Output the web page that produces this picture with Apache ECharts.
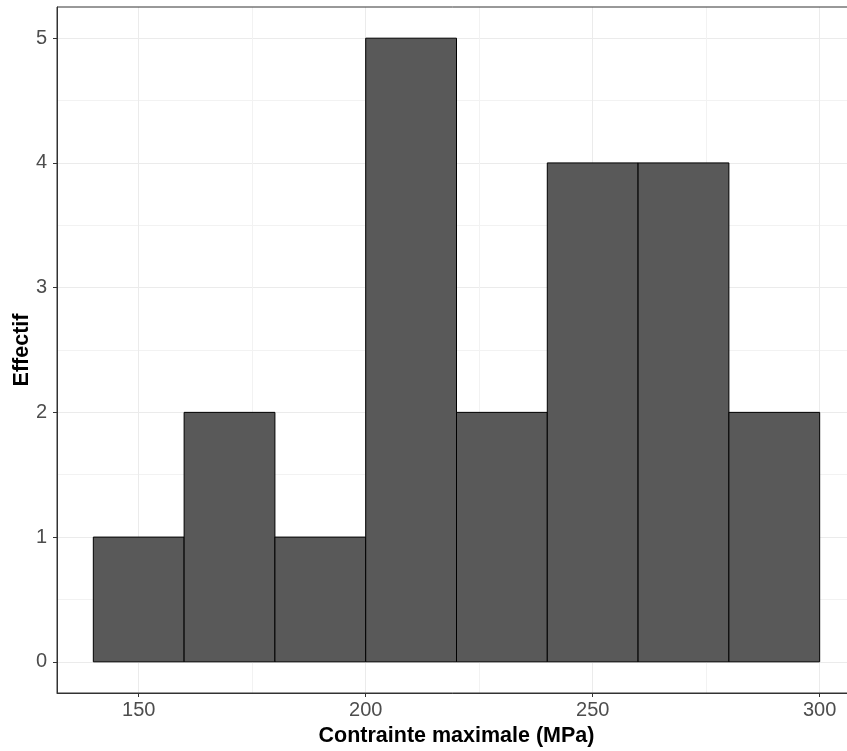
<!DOCTYPE html>
<html>
<head>
<meta charset="utf-8">
<script src="https://cdn.jsdelivr.net/npm/echarts@6/dist/echarts.min.js"></script>
<style>html,body{margin:0;padding:0;background:#fff;}#chart{width:847px;height:751px;}</style>
</head>
<body>
<div id="chart"></div>
<script>
// Histogram bins (MPa) and counts
const binStarts = [140, 160, 180, 200, 220, 240, 260, 280];
const binEnds   = [160, 180, 200, 220, 240, 260, 280, 300];
const counts    = [1, 2, 1, 5, 2, 4, 4, 2];
const xTicks = [150, 200, 250, 300];
const xMinor = [175, 225, 275];
const yTicks = [0, 1, 2, 3, 4, 5];
const yMinor = [0.5, 1.5, 2.5, 3.5, 4.5];
const xTitle = 'Contrainte maximale (MPa)';
const yTitle = 'Effectif';

const FONT = '"Liberation Sans", Arial, sans-serif';
const chart = echarts.init(document.getElementById('chart'), null, {renderer: 'canvas'});

const data = binStarts.map((s, i) => [s, binEnds[i], counts[i]]);

const gridCol = '#EBEBEB';
const minorCol = '#F2F2F2';

chart.setOption({
  backgroundColor: '#ffffff',
  animation: false,
  grid: {left: 57, top: 7, width: 799, height: 686, containLabel: false, outerBoundsMode: 'none',
         show: true, borderColor: '#333333', borderWidth: 1, backgroundColor: 'transparent', z: 3},
  xAxis: [{
    type: 'value', min: 132, max: 308,
    axisLine: {show: true, onZero: false, lineStyle: {color: '#333333', width: 1}},
    axisTick: {show: true, length: 4, customValues: xTicks, lineStyle: {color: '#333333'}},
    axisLabel: {customValues: xTicks, color: '#4D4D4D', fontSize: 20, fontFamily: FONT, margin: 7},
    splitLine: {show: true, lineStyle: {color: gridCol, width: 1}},
    name: xTitle, nameLocation: 'middle', nameGap: 32, nameMoveOverlap: false,
    nameTextStyle: {fontSize: 21.5, fontWeight: 'bold', color: '#000', fontFamily: FONT}
  }, {
    type: 'value', min: 132, max: 308, position: 'bottom',
    axisLine: {show: false}, axisLabel: {show: false},
    axisTick: {show: false, customValues: xMinor},
    splitLine: {show: true, lineStyle: {color: minorCol, width: 1}}
  }],
  yAxis: [{
    type: 'value', min: -0.25, max: 5.25,
    axisLine: {show: true, onZero: false, lineStyle: {color: '#333333', width: 1}},
    axisTick: {show: true, length: 4, customValues: yTicks, lineStyle: {color: '#333333'}},
    axisLabel: {customValues: yTicks, color: '#4D4D4D', fontSize: 20, fontFamily: FONT, margin: 10},
    splitLine: {show: true, lineStyle: {color: gridCol, width: 1}},
    name: yTitle, nameLocation: 'middle', nameGap: 24, nameRotate: 90, nameMoveOverlap: false,
    nameTextStyle: {fontSize: 21.5, fontWeight: 'bold', color: '#000', fontFamily: FONT}
  }, {
    type: 'value', min: -0.25, max: 5.25, position: 'left',
    axisLine: {show: false}, axisLabel: {show: false},
    axisTick: {show: false, customValues: yMinor},
    splitLine: {show: true, lineStyle: {color: minorCol, width: 1}}
  }],
  series: [{
    type: 'custom',
    xAxisIndex: 0, yAxisIndex: 0,
    z: 2,
    data: data,
    encode: {x: [0, 1], y: 2},
    renderItem: function (params, api) {
      const p0 = api.coord([api.value(0), api.value(2)]);
      const p1 = api.coord([api.value(1), 0]);
      return {
        type: 'rect',
        shape: {x: p0[0], y: p0[1], width: p1[0] - p0[0], height: p1[1] - p0[1]},
        style: {fill: '#595959', stroke: '#000000', lineWidth: 1}
      };
    }
  }]
});
</script>
</body>
</html>
